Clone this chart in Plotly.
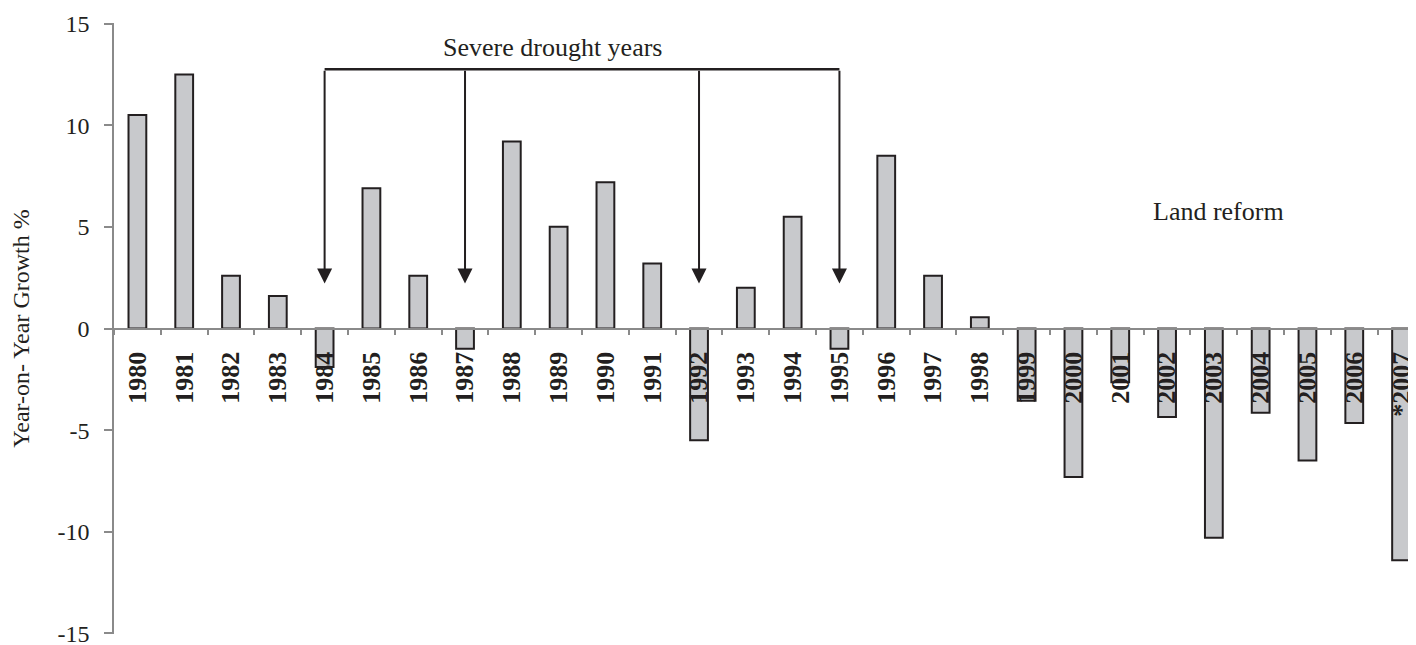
import plotly.graph_objects as go

years = ["1980", "1981", "1982", "1983", "1984", "1985", "1986", "1987", "1988", "1989",
         "1990", "1991", "1992", "1993", "1994", "1995", "1996", "1997", "1998", "1999",
         "2000", "2001", "2002", "2003", "2004", "2005", "2006", "*2007"]
growth = [10.5, 12.5, 2.6, 1.6, -1.9, 6.9, 2.6, -1.0, 9.2, 5.0,
          7.2, 3.2, -5.5, 2.0, 5.5, -1.0, 8.5, 2.6, 0.55, -3.55,
          -7.3, -2.65, -4.35, -10.3, -4.15, -6.5, -4.65, -11.4]
drought_years = ["1984", "1987", "1992", "1995"]
y_ticks = [15, 10, 5, 0, -5, -10, -15]

FONT = "Liberation Serif"
bracket_y = 12.75
arrow_tip_y = 2.22

fig = go.Figure()
fig.add_trace(go.Bar(
    x=years, y=growth, width=0.38,
    marker=dict(color="#c8c9cc", line=dict(color="#231f20", width=2)),
    showlegend=False,
))

idx = [years.index(y) for y in drought_years]
fig.add_shape(type="line", xref="x", yref="y", x0=min(idx), x1=max(idx),
              y0=bracket_y, y1=bracket_y, line=dict(color="#231f20", width=2.5))
for i in idx:
    fig.add_annotation(x=i, y=arrow_tip_y, ax=i, ay=bracket_y, xref="x", yref="y",
                       axref="x", ayref="y", text="", showarrow=True, arrowhead=2,
                       arrowsize=1.5, arrowwidth=2, arrowcolor="#231f20", standoff=0)

fig.add_annotation(x=8.86, y=13.84, xref="x", yref="y", text="Severe drought years",
                   showarrow=False, font=dict(family=FONT, size=26, color="#231f20"))
fig.add_annotation(x=23.1, y=5.75, xref="x", yref="y", text="Land reform",
                   showarrow=False, font=dict(family=FONT, size=26, color="#231f20"))

fig.update_layout(
    width=1416, height=645,
    margin=dict(l=106, r=0, t=15, b=19),
    paper_bgcolor="white", plot_bgcolor="white",
    bargap=0.6,
    xaxis=dict(type="category", range=[-0.5, 27.49], anchor="free", position=0.5,
               showline=True, linecolor="#8a8a8a", linewidth=1.5,
               ticks="outside", ticklen=6, tickwidth=1.5, tickcolor="#8a8a8a",
               tickson="boundaries", tickangle=-90, showgrid=False,
               ticklabelstandoff=12,
               tickfont=dict(family=FONT, size=26, color="#231f20", weight="bold")),
    yaxis=dict(range=[-15.03, 15.03], tickvals=y_ticks, ticktext=[str(v) for v in y_ticks],
               showline=True, linecolor="#8a8a8a", linewidth=1.5, zeroline=False,
               showgrid=False, ticks="outside", ticklen=8, tickwidth=1.5,
               tickcolor="#8a8a8a", ticklabelstandoff=10,
               tickfont=dict(family=FONT, size=24, color="#231f20"),
               title=dict(text="Year-on- Year Growth %", standoff=30,
                          font=dict(family=FONT, size=24, color="#231f20"))),
)

fig.write_html("out.html")
